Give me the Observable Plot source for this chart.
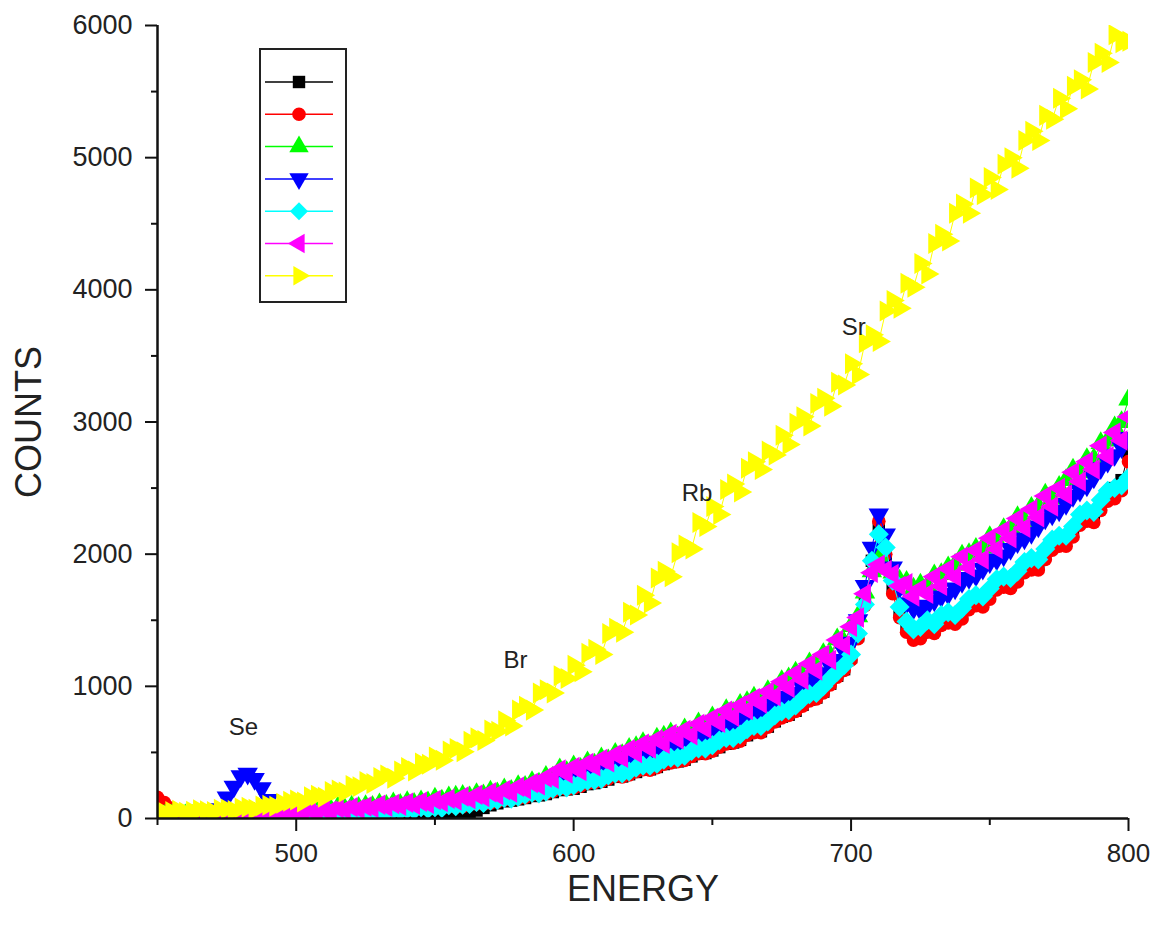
<!DOCTYPE html>
<html><head><meta charset="utf-8">
<script src="https://cdn.jsdelivr.net/npm/d3@7"></script>
<script src="https://cdn.jsdelivr.net/npm/@observablehq/plot@0.6"></script>
<style>
body{margin:0;background:#fff;}
#wrap{position:relative;width:1161px;height:932px;}
#wrap svg.legend{position:absolute;left:0;top:0;pointer-events:none;}
</style></head><body><div id="wrap"></div>
<script>
// energy channels (2.5 step), rows of 10
const energy = [
  450,452.5,455,457.5,460,462.5,465,467.5,470,472.5,
  475,477.5,480,482.5,485,487.5,490,492.5,495,497.5,
  500,502.5,505,507.5,510,512.5,515,517.5,520,522.5,
  525,527.5,530,532.5,535,537.5,540,542.5,545,547.5,
  550,552.5,555,557.5,560,562.5,565,567.5,570,572.5,
  575,577.5,580,582.5,585,587.5,590,592.5,595,597.5,
  600,602.5,605,607.5,610,612.5,615,617.5,620,622.5,
  625,627.5,630,632.5,635,637.5,640,642.5,645,647.5,
  650,652.5,655,657.5,660,662.5,665,667.5,670,672.5,
  675,677.5,680,682.5,685,687.5,690,692.5,695,697.5,
  700,702.5,705,707.5,710,712.5,715,717.5,720,722.5,
  725,727.5,730,732.5,735,737.5,740,742.5,745,747.5,
  750,752.5,755,757.5,760,762.5,765,767.5,770,772.5,
  775,777.5,780,782.5,785,787.5,790,792.5,795,797.5,
  800];

const blackSeries = [
  40,35,30,25,25,22,20,24,25,20,
  20,22,25,24,25,22,20,24,25,24,
  25,28,30,28,30,32,35,28,20,24,
  25,22,20,26,30,26,25,30,35,32,
  30,25,20,25,30,40,60,80,100,115,
  130,135,145,155,170,175,185,200,215,220,
  225,240,260,268,278,295,315,318,335,352,
  370,372,390,412,425,432,445,470,490,495,
  515,540,565,575,595,630,655,660,695,735,
  770,785,815,860,900,915,960,1020,1080,1130,
  1220,1380,1640,1950,2200,1980,1750,1560,1450,1400,
  1400,1440,1430,1490,1510,1500,1540,1610,1640,1640,
  1700,1760,1780,1780,1830,1890,1920,1920,2000,2060,
  2090,2100,2170,2250,2290,2290,2380,2450,2500,2560,
  2760];
const redSeries = [
  160,120,80,45,30,22,20,18,25,20,
  15,20,25,22,30,24,20,26,30,28,
  25,30,35,32,35,40,45,42,40,46,
  50,48,50,56,60,58,60,68,75,70,
  75,82,90,86,90,102,110,108,115,126,
  140,140,150,160,180,180,190,205,225,220,
  230,245,265,270,280,300,320,315,330,355,
  370,365,385,410,420,430,440,470,490,490,
  510,540,565,570,585,630,650,650,690,730,
  760,780,810,850,890,905,950,1010,1070,1120,
  1200,1360,1610,1950,2250,2000,1700,1520,1410,1350,
  1360,1410,1400,1460,1480,1470,1510,1580,1610,1600,
  1660,1730,1750,1740,1790,1860,1880,1880,1960,2030,
  2060,2060,2130,2220,2250,2240,2330,2400,2420,2480,
  2700];
const greenSeries = [
  30,20,22,15,25,20,22,18,24,20,
  28,22,30,26,36,28,40,34,48,40,
  56,48,66,58,70,64,82,72,90,80,
  94,88,108,96,115,104,124,112,130,122,
  150,135,160,165,172,160,185,175,204,190,
  220,210,245,240,275,265,315,310,372,352,
  395,375,425,408,455,440,490,480,528,540,
  570,545,605,620,645,615,675,650,720,700,
  765,745,820,800,860,880,915,890,965,950,
  1040,1060,1105,1075,1175,1140,1245,1230,1355,1330,
  1455,1530,1710,1870,1990,1890,1860,1800,1790,1740,
  1770,1760,1840,1850,1900,1920,1990,2000,2040,2050,
  2130,2100,2190,2200,2280,2250,2350,2360,2450,2420,
  2510,2560,2640,2620,2720,2720,2840,2860,2960,3000,
  3170];
const blueSeries = [
  30,22,25,35,35,30,35,30,40,70,
  160,240,320,340,300,230,140,80,50,45,
  40,45,50,48,50,55,60,58,60,66,
  70,68,70,78,85,82,85,92,100,98,
  100,108,115,120,125,132,140,145,150,160,
  170,178,185,198,210,220,230,248,265,278,
  290,308,325,338,350,368,385,402,420,438,
  455,472,490,508,525,542,560,582,605,622,
  640,668,695,712,730,758,785,808,830,862,
  895,922,950,990,1030,1065,1100,1150,1200,1265,
  1330,1500,1760,2050,2300,2150,1900,1750,1630,1590,
  1580,1610,1650,1680,1700,1740,1790,1820,1840,1890,
  1940,1960,1990,2040,2090,2120,2160,2210,2270,2300,
  2330,2380,2440,2480,2520,2580,2650,2700,2750,2810,
  2880];
const cyanSeries = [
  20,12,15,10,25,14,15,10,20,16,
  20,14,25,18,30,20,25,22,30,26,
  35,28,35,30,45,36,40,38,50,44,
  55,48,55,52,65,58,70,64,85,72,
  85,80,100,92,105,110,125,118,135,140,
  155,150,165,180,195,190,205,225,240,235,
  250,270,285,290,300,325,340,340,355,385,
  400,400,415,445,460,460,475,510,530,530,
  555,590,610,610,635,675,700,700,735,780,
  810,820,855,905,940,950,1000,1060,1110,1160,
  1240,1400,1620,1950,2150,2050,1800,1600,1490,1430,
  1450,1500,1470,1540,1560,1540,1590,1660,1690,1680,
  1740,1810,1830,1820,1870,1940,1970,1960,2040,2110,
  2140,2140,2210,2300,2330,2320,2410,2480,2500,2520,
  2580];
const magentaSeries = [
  25,10,18,8,22,12,18,10,20,14,
  24,16,28,20,32,22,36,28,44,34,
  52,42,62,50,66,58,78,66,86,72,
  90,80,104,88,110,96,120,104,126,112,
  140,124,150,136,166,148,180,162,198,178,
  214,196,240,222,268,252,310,300,370,340,
  390,360,420,395,450,425,485,460,525,495,
  565,530,600,565,640,600,670,630,715,680,
  760,725,815,770,855,820,910,870,960,925,
  1035,990,1100,1050,1170,1120,1240,1200,1350,1310,
  1450,1520,1700,1860,1920,1880,1850,1760,1780,1680,
  1740,1700,1830,1760,1890,1830,1980,1900,2030,1960,
  2120,2040,2180,2120,2270,2200,2340,2280,2440,2360,
  2500,2450,2620,2550,2700,2640,2820,2740,2920,2860,
  3040];
const yellowSeries = [
  60,45,52,62,48,55,66,58,52,70,
  72,60,80,85,70,95,100,92,115,130,
  140,125,165,175,160,205,215,200,250,240,
  280,265,310,330,305,360,385,360,420,410,
  465,440,510,530,505,585,610,590,670,660,
  740,700,820,850,820,950,975,950,1080,1060,
  1160,1110,1250,1280,1240,1400,1440,1410,1560,1540,
  1690,1630,1820,1870,1830,2010,2070,2040,2240,2210,
  2360,2300,2490,2530,2470,2650,2700,2640,2780,2750,
  2900,2830,2990,3040,2970,3140,3180,3120,3300,3280,
  3440,3360,3600,3660,3610,3840,3920,3860,4050,4020,
  4200,4120,4350,4420,4370,4580,4650,4580,4770,4720,
  4850,4760,4950,5000,4920,5130,5200,5130,5320,5290,
  5450,5370,5540,5590,5520,5720,5790,5720,5930,5870,
  5880];

const seriesValues = [blackSeries, redSeries, greenSeries, blueSeries, cyanSeries, magentaSeries, yellowSeries];
const seriesColors = ["#000000", "#ff0000", "#00ff00", "#0000ff", "#00ffff", "#ff00ff", "#ffff00"];
const seriesShapes = ["square", "circle", "up", "down", "diamond", "left", "right"];

const xTicks = [500, 600, 700, 800];
const xMinorTicks = [450, 550, 650, 750];
const yTicks = [0, 1000, 2000, 3000, 4000, 5000, 6000];
const yMinorTicks = [500, 1500, 2500, 3500, 4500, 5500];

const peakLabels = ["Se", "Br", "Rb", "Sr"];
const peakEnergy = [481, 579, 644.5, 701];
const peakCounts = [690, 1195, 2460, 3715];

// custom symbols
const SQ3 = Math.sqrt(3);
function triangleSymbol(angleDeg) {
  const a = angleDeg * Math.PI / 180, c = Math.cos(a), s = Math.sin(a);
  return {
    draw(ctx, size) {
      const y = -Math.sqrt(size / (SQ3 * 3));
      const pts = [[0, y * 2], [-SQ3 * y, -y], [SQ3 * y, -y]].map(([px, py]) => [px * c - py * s, px * s + py * c]);
      ctx.moveTo(pts[0][0], pts[0][1]);
      ctx.lineTo(pts[1][0], pts[1][1]);
      ctx.lineTo(pts[2][0], pts[2][1]);
      ctx.closePath();
    }
  };
}
const diamondSymbol = {
  draw(ctx, size) {
    const h = Math.sqrt(size) / Math.SQRT2;
    ctx.moveTo(0, -h); ctx.lineTo(h, 0); ctx.lineTo(0, h); ctx.lineTo(-h, 0); ctx.closePath();
  }
};
const symbolFor = {
  square: d3.symbolSquare,
  circle: d3.symbolCircle,
  up: triangleSymbol(0),
  down: triangleSymbol(180),
  left: triangleSymbol(-90),
  right: triangleSymbol(90),
  diamond: diamondSymbol
};
const radiusFor = {square: 7, circle: 6.8, up: 7.6, down: 7.6, left: 7.6, right: 7.8, diamond: 8};

const seriesMarks = [];
seriesValues.forEach((vals, i) => {
  const rows = energy.map((e, j) => ({E: e, C: vals[j]}));
  seriesMarks.push(Plot.line(rows, {x: "E", y: "C", stroke: seriesColors[i], strokeWidth: 1, clip: true}));
  seriesMarks.push(Plot.dot(rows, {x: "E", y: "C", symbol: symbolFor[seriesShapes[i]], r: radiusFor[seriesShapes[i]], fill: seriesColors[i], stroke: "none", clip: true}));
});

const labelRows = peakLabels.map((t, i) => ({t, E: peakEnergy[i], C: peakCounts[i]}));
const font = "'Liberation Sans', Arial, Helvetica, sans-serif";
const plain = d => String(d);

const chart = Plot.plot({
  width: 1161, height: 932,
  marginLeft: 157, marginRight: 33, marginTop: 25, marginBottom: 114,
  x: {domain: [450, 800]},
  y: {domain: [0, 6000]},
  style: {fontFamily: font, background: "white", color: "#222", overflow: "visible"},
  marks: [
    ...seriesMarks,
    Plot.text(labelRows, {x: "E", y: "C", text: "t", fontSize: 24, fill: "#222"}),
    Plot.axisX({ticks: xTicks, tickSize: 13, tickPadding: 12, fontSize: 26, tickFormat: plain, label: null, strokeWidth: 2, stroke: "#111", fill: "#222"}),
    Plot.axisX({ticks: xMinorTicks, tickSize: 7, tickFormat: () => "", label: null, strokeWidth: 2, stroke: "#111"}),
    Plot.axisY({ticks: yTicks, tickSize: 12, tickPadding: 13, fontSize: 27, tickFormat: plain, label: null, strokeWidth: 2, stroke: "#111", fill: "#222"}),
    Plot.axisY({ticks: yMinorTicks, tickSize: 6, tickFormat: () => "", label: null, strokeWidth: 2, stroke: "#111"}),
    Plot.ruleX([450], {strokeWidth: 2.5, stroke: "#111"}),
    Plot.ruleY([0], {strokeWidth: 2.5, stroke: "#111"}),
    Plot.text(["ENERGY"], {frameAnchor: "bottom", lineAnchor: "middle", textAnchor: "middle", dy: 71, fontSize: 36, fill: "#222"}),
    Plot.text(["COUNTS"], {frameAnchor: "left", lineAnchor: "middle", textAnchor: "middle", dx: -128, rotate: -90, fontSize: 36, fill: "#222"})
  ]
});
document.getElementById("wrap").appendChild(chart);

// legend box (no text in the original)
const leg = d3.select("#wrap").append("svg").attr("class", "legend")
  .attr("width", 1161).attr("height", 932);
const lx = 260, ly = 49, lw = 86, lh = 253, rowH = 32.3, firstRow = 82;
leg.append("rect").attr("x", lx).attr("y", ly).attr("width", lw).attr("height", lh)
  .attr("fill", "white").attr("stroke", "#222").attr("stroke-width", 2);
seriesColors.forEach((col, i) => {
  const cy = firstRow + i * rowH;
  leg.append("line").attr("x1", 265).attr("x2", 333).attr("y1", cy).attr("y2", cy)
    .attr("stroke", col).attr("stroke-width", 1.5);
  const shape = seriesShapes[i];
  const r = Math.min(radiusFor[shape], 7.2);
  leg.append("path").attr("transform", `translate(299,${cy})`)
    .attr("d", d3.symbol().type(symbolFor[shape]).size(Math.PI * r * r)())
    .attr("fill", col);
});
</script></body></html>
